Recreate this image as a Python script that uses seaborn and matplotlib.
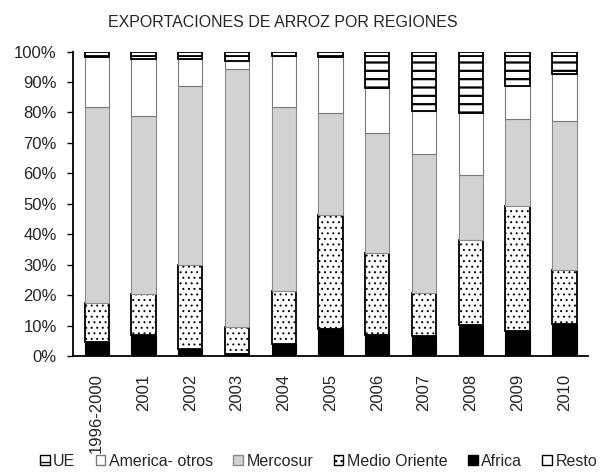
import seaborn as sns
import matplotlib.pyplot as plt
import pandas as pd
from matplotlib.patches import Patch

years = ['1996-2000', '2001', '2002', '2003', '2004', '2005',
         '2006', '2007', '2008', '2009', '2010']

# shares in %, stacked bottom to top
africa = [4.6, 6.9, 2.3, 0.6, 3.9, 8.8, 6.9, 6.6, 10.1, 8.3, 10.5]
medio_oriente = [12.7, 13.5, 27.7, 8.9, 17.4, 37.5, 26.9, 14.0, 27.9, 40.9, 17.7]
mercosur = [64.5, 58.4, 58.7, 84.8, 60.5, 33.4, 39.4, 45.7, 21.4, 28.7, 49.1]
america = [16.4, 18.6, 9.0, 2.7, 16.6, 18.5, 14.8, 14.1, 20.4, 10.7, 15.3]
ue = [0.5, 1.3, 1.0, 1.7, 0.3, 0.5, 10.7, 18.3, 18.9, 10.1, 6.1]
resto = [1.3, 1.3, 1.3, 1.3, 1.3, 1.3, 1.3, 1.3, 1.3, 1.3, 1.3]

df = pd.DataFrame({'year': years, 'Africa': africa, 'Medio Oriente': medio_oriente,
                   'Mercosur': mercosur, 'America- otros': america,
                   'UE': ue, 'Resto': resto})

sns.set_style('white')
plt.rcParams['font.family'] = ['Liberation Sans', 'DejaVu Sans']

styles = {
    'Africa': dict(color='black', edgecolor='black', hatch=None, hlw=1.0),
    'Medio Oriente': dict(color='white', edgecolor='black', hatch='...', hlw=0.7),
    'Mercosur': dict(color='#d2d2d2', edgecolor='#8a8a8a', hatch=None, hlw=1.0),
    'America- otros': dict(color='white', edgecolor='#7a7a7a', hatch=None, hlw=1.0),
    'UE': dict(color='white', edgecolor='black', hatch='--', hlw=1.6),
    'Resto': dict(color='white', edgecolor='black', hatch=None, hlw=1.0),
}
order = ['Africa', 'Medio Oriente', 'Mercosur', 'America- otros', 'UE', 'Resto']

fig = plt.figure(figsize=(6.01, 4.73), dpi=100)
ax = fig.add_axes([0.122, 0.247, 0.856, 0.644])

bottom = pd.Series(0.0, index=df.index)
for name in order:
    st = styles[name]
    plt.rcParams['hatch.linewidth'] = st['hlw']
    ax.bar(df['year'], df[name], bottom=bottom, width=0.52,
           color=st['color'], edgecolor=st['edgecolor'],
           linewidth=1.3 if name in ('Resto', 'UE', 'Medio Oriente') else 0.8,
           hatch=st['hatch'])
    bottom = bottom + df[name]

ax.set_xlim(-0.5, 10.5)
ax.set_ylim(0, 100)
ax.set_yticks(range(0, 101, 10))
ax.set_yticklabels([f'{v}%' for v in range(0, 101, 10)], fontsize=12)
ax.set_xticks(range(len(years)))
ax.set_xticklabels(years, rotation=90, fontsize=12)
ax.tick_params(axis='y', left=True, length=4, width=1, color='black', pad=8)
ax.tick_params(axis='x', bottom=False, pad=9)
sns.despine(ax=ax)
for side in ('left', 'bottom'):
    ax.spines[side].set_color('black')
    ax.spines[side].set_linewidth(1.3)
ax.set_xlabel('')
ax.set_ylabel('')

fig.text(0.47, 0.953, 'EXPORTACIONES DE ARROZ POR REGIONES', ha='center', va='center', fontsize=11.5)

leg_order = ['UE', 'America- otros', 'Mercosur', 'Medio Oriente', 'Africa', 'Resto']
handles = []
for n in leg_order:
    plt.rcParams['hatch.linewidth'] = styles[n]['hlw']
    handles.append(Patch(facecolor=styles[n]['color'], edgecolor=styles[n]['edgecolor'],
                         hatch=styles[n]['hatch'], linewidth=1))
fig.legend(handles, leg_order, loc='center', bbox_to_anchor=(0.53, 0.025), ncol=6,
           frameon=False, fontsize=11.5, handlelength=0.6, handleheight=0.6,
           handletextpad=0.2, columnspacing=1.3, borderaxespad=0, borderpad=0)

fig.savefig('out.png', dpi=100)
